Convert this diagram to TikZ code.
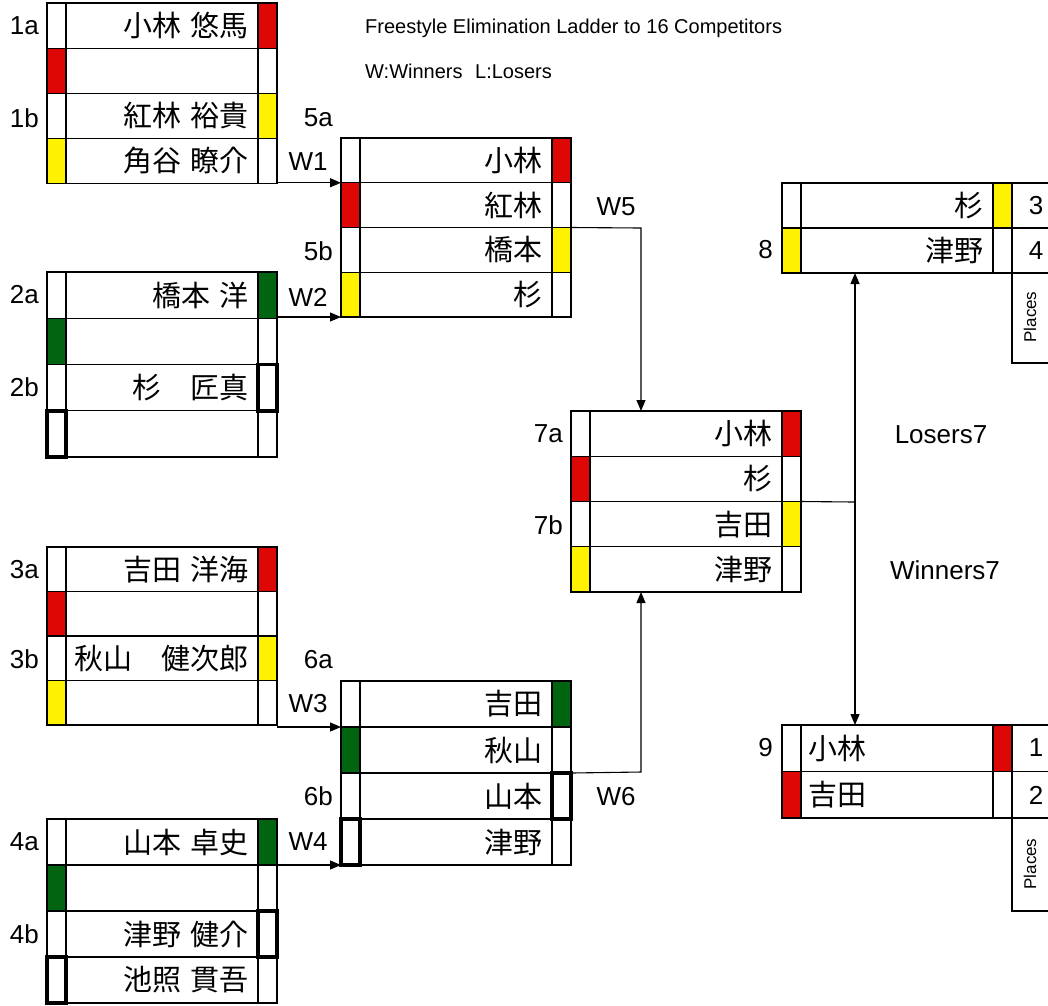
\documentclass[tikz,border=0pt]{standalone}
\usepackage{fontspec}
\setmainfont{Liberation Sans}
\newfontfamily\jp[WordSpace=1.5]{Noto Sans CJK JP}
\usetikzlibrary{arrows.meta,calc}
\definecolor{cred}{RGB}{221,8,6}
\definecolor{cyel}{RGB}{255,242,0}
\definecolor{cgrn}{RGB}{0,100,17}
\tikzset{
  rowbox/.style={draw=black, line width=1.1pt, inner sep=0pt, outer sep=0pt, rectangle},
  gridline/.style={draw=black, line width=1.1pt},
  cellfill/.style={fill=#1, draw=black, line width=1.1pt},
  thickcell/.style={draw=black, line width=3.6pt},
  nametext/.style={font=\jp\fontsize{29}{31}\selectfont, inner sep=0pt},
  lbl/.style={font=\fontsize{26}{28}\selectfont, inner sep=0pt},
  titletext/.style={font=\fontsize{20}{22}\selectfont, inner sep=0pt, anchor=west},
  placetext/.style={font=\fontsize{17}{19}\selectfont, inner sep=0pt, rotate=90},
  conn/.style={draw=black, line width=1.1pt},
  arr/.style={-{Triangle[length=11pt,width=9pt]}},
  dblarr/.style={{Triangle[length=11pt,width=9pt]}-{Triangle[length=11pt,width=9pt]}},
}
\newcommand\ladderblock[6]{%
  \pgfmathsetmacro\rowh{(#5-#4)/#6}%
  \foreach \i in {1,...,#6}{%
    \node[rowbox, minimum width={(#3-#2)*1pt}, minimum height={\rowh*1pt}] (#1-\i) at ({(#2+#3)/2},{#4+(\i-0.5)*\rowh}) {};
  }%
  \draw[gridline] ([xshift=19pt]#1-1.north west) -- ([xshift=19pt]#1-#6.south west);
  \draw[gridline] ([xshift=-19pt]#1-1.north east) -- ([xshift=-19pt]#1-#6.south east);
}
\newcommand\lcell[3]{\path[cellfill=#3] (#1-#2.north west) rectangle ([xshift=19pt]#1-#2.south west);}
\newcommand\rcell[3]{\path[cellfill=#3] ([xshift=-19pt]#1-#2.north east) rectangle (#1-#2.south east);}
\newcommand\lthick[2]{\draw[thickcell] (#1-#2.north west) rectangle ([xshift=19pt]#1-#2.south west);}
\newcommand\rthick[2]{\draw[thickcell] ([xshift=-19pt]#1-#2.north east) rectangle (#1-#2.south east);}
\begin{document}
\begin{tikzpicture}[x=1pt,y=-1pt]
\path[use as bounding box] (0,0) rectangle (1048,1005);
\clip (0,0) rectangle (1048,1005);

% title
\node[titletext] (title) at (365,28) {Freestyle Elimination Ladder to 16 Competitors};
\node[titletext] (legend) at (365,71) {W:Winners\hspace{0.35em} L:Losers};

% blocks
\ladderblock{b1}{47}{277}{3}{183.5}{4}
\ladderblock{b2}{47}{277}{272}{457}{4}
\ladderblock{b3}{47}{277}{547}{725}{4}
\ladderblock{b4}{47}{277}{819}{1003}{4}
\ladderblock{b5}{341}{571}{138}{317}{4}
\ladderblock{b6}{341}{571}{681}{865}{4}
\ladderblock{b7}{571}{801}{411}{592}{4}
\ladderblock{b8}{782}{1012}{183}{273}{2}
\ladderblock{b9}{782}{1012}{725}{818}{2}

% place columns
\node[rowbox, minimum width=58pt, minimum height=45pt] (p8-1) at (1041,205.5) {};
\node[rowbox, minimum width=58pt, minimum height=45pt] (p8-2) at (1041,250.5) {};
\node[rowbox, minimum width=58pt, minimum height=90pt] (p8-3) at (1041,318) {};
\node[rowbox, minimum width=58pt, minimum height=46.5pt] (p9-1) at (1041,748.25) {};
\node[rowbox, minimum width=58pt, minimum height=46.5pt] (p9-2) at (1041,794.75) {};
\node[rowbox, minimum width=58pt, minimum height=93pt] (p9-3) at (1041,864.5) {};

% coloured cells
\rcell{b1}{1}{cred}\lcell{b1}{2}{cred}\rcell{b1}{3}{cyel}\lcell{b1}{4}{cyel}
\rcell{b2}{1}{cgrn}\lcell{b2}{2}{cgrn}\rthick{b2}{3}\lthick{b2}{4}
\rcell{b3}{1}{cred}\lcell{b3}{2}{cred}\rcell{b3}{3}{cyel}\lcell{b3}{4}{cyel}
\rcell{b4}{1}{cgrn}\lcell{b4}{2}{cgrn}\rthick{b4}{3}\lthick{b4}{4}
\rcell{b5}{1}{cred}\lcell{b5}{2}{cred}\rcell{b5}{3}{cyel}\lcell{b5}{4}{cyel}
\rcell{b6}{1}{cgrn}\lcell{b6}{2}{cgrn}\rthick{b6}{3}\lthick{b6}{4}
\rcell{b7}{1}{cred}\lcell{b7}{2}{cred}\rcell{b7}{3}{cyel}\lcell{b7}{4}{cyel}
\rcell{b8}{1}{cyel}\lcell{b8}{2}{cyel}
\rcell{b9}{1}{cred}\lcell{b9}{2}{cred}

% names
\node[nametext, anchor=east] (n1-1) at ([xshift=-28pt]b1-1.east) {小林 悠馬};
\node[nametext, anchor=east] (n1-3) at ([xshift=-28pt]b1-3.east) {紅林 裕貴};
\node[nametext, anchor=east] (n1-4) at ([xshift=-28pt]b1-4.east) {角谷 瞭介};
\node[nametext, anchor=east] (n2-1) at ([xshift=-28pt]b2-1.east) {橋本 洋};
\node[nametext, anchor=east] (n2-3) at ([xshift=-28pt]b2-3.east) {杉　匠真};
\node[nametext, anchor=east] (n3-1) at ([xshift=-28pt]b3-1.east) {吉田 洋海};
\node[nametext, anchor=east] (n3-3) at ([xshift=-28pt]b3-3.east) {秋山　健次郎};
\node[nametext, anchor=east] (n4-1) at ([xshift=-28pt]b4-1.east) {山本 卓史};
\node[nametext, anchor=east] (n4-3) at ([xshift=-28pt]b4-3.east) {津野 健介};
\node[nametext, anchor=east] (n4-4) at ([xshift=-28pt]b4-4.east) {池照 貫吾};
\node[nametext, anchor=east] (n5-1) at ([xshift=-28pt]b5-1.east) {小林};
\node[nametext, anchor=east] (n5-2) at ([xshift=-28pt]b5-2.east) {紅林};
\node[nametext, anchor=east] (n5-3) at ([xshift=-28pt]b5-3.east) {橋本};
\node[nametext, anchor=east] (n5-4) at ([xshift=-28pt]b5-4.east) {杉};
\node[nametext, anchor=east] (n6-1) at ([xshift=-28pt]b6-1.east) {吉田};
\node[nametext, anchor=east] (n6-2) at ([xshift=-28pt]b6-2.east) {秋山};
\node[nametext, anchor=east] (n6-3) at ([xshift=-28pt]b6-3.east) {山本};
\node[nametext, anchor=east] (n6-4) at ([xshift=-28pt]b6-4.east) {津野};
\node[nametext, anchor=east] (n7-1) at ([xshift=-28pt]b7-1.east) {小林};
\node[nametext, anchor=east] (n7-2) at ([xshift=-28pt]b7-2.east) {杉};
\node[nametext, anchor=east] (n7-3) at ([xshift=-28pt]b7-3.east) {吉田};
\node[nametext, anchor=east] (n7-4) at ([xshift=-28pt]b7-4.east) {津野};
\node[nametext, anchor=east] (n8-1) at ([xshift=-28pt]b8-1.east) {杉};
\node[nametext, anchor=east] (n8-2) at ([xshift=-28pt]b8-2.east) {津野};
\node[nametext, anchor=west] (n9-1) at ([xshift=26pt]b9-1.west) {小林};
\node[nametext, anchor=west] (n9-2) at ([xshift=26pt]b9-2.west) {吉田};

% seed labels
\node[lbl, anchor=east] (l1a) at (39,26) {1a};
\node[lbl, anchor=east] (l1b) at (39,118) {1b};
\node[lbl, anchor=east] (l2a) at (39,295) {2a};
\node[lbl, anchor=east] (l2b) at (39,387) {2b};
\node[lbl, anchor=east] (l3a) at (39,570) {3a};
\node[lbl, anchor=east] (l3b) at (39,659) {3b};
\node[lbl, anchor=east] (l4a) at (39,842) {4a};
\node[lbl, anchor=east] (l4b) at (39,934) {4b};
\node[lbl, anchor=east] (l5a) at (333,118) {5a};
\node[lbl, anchor=east] (l5b) at (333,251) {5b};
\node[lbl, anchor=east] (l6a) at (333,660) {6a};
\node[lbl, anchor=east] (l6b) at (333,796) {6b};
\node[lbl, anchor=east] (l7a) at (563,434) {7a};
\node[lbl, anchor=east] (l7b) at (563,525) {7b};
\node[lbl, anchor=east] (l8) at (773,250) {8};
\node[lbl, anchor=east] (l9) at (773,748) {9};

% places
\node[lbl] (pl3) at (1036,206) {3};
\node[lbl] (pl4) at (1036,251) {4};
\node[placetext] (pl8) at (1030,317) {Places};
\node[lbl] (pl1) at (1036,748) {1};
\node[lbl] (pl2) at (1036,795) {2};
\node[placetext] (pl9) at (1030,864) {Places};

% connectors
\draw[conn,arr] (b5-1.south west -| b1-4.south east) -- (b5-1.south west);
\draw[conn,arr] (b5-4.south west -| b2-1.south east) -- (b5-4.south west);
\draw[conn,arr] (b6-1.south west -| b3-4.south east) -- (b6-1.south west);
\draw[conn,arr] (b6-4.south west -| b4-1.south east) -- (b6-4.south west);
\node[lbl] (w1) at (308,162) {W1};
\node[lbl] (w2) at (308,297) {W2};
\node[lbl] (w3) at (308,704) {W3};
\node[lbl] (w4) at (308,842) {W4};

\coordinate (j5) at (641,228);
\coordinate (j6) at (641,772);
\coordinate (j7) at (855,502);
\draw[conn,arr] (b5-2.south east) -- (j5) -- (j5 |- b7-1.north);
\draw[conn,arr] (b6-2.south east) -- (j6) -- (j6 |- b7-4.south);
\node[lbl] (w5) at (616,207) {W5};
\node[lbl] (w6) at (616,797) {W6};

\draw[conn] (b7-2.south east) -- (j7);
\draw[conn,dblarr] (j7 |- b8-2.south) -- (j7 |- b9-1.north);
\node[lbl] (los7) at (941,435) {Losers7};
\node[lbl] (win7) at (945,570) {Winners7};
\end{tikzpicture}
\end{document}
